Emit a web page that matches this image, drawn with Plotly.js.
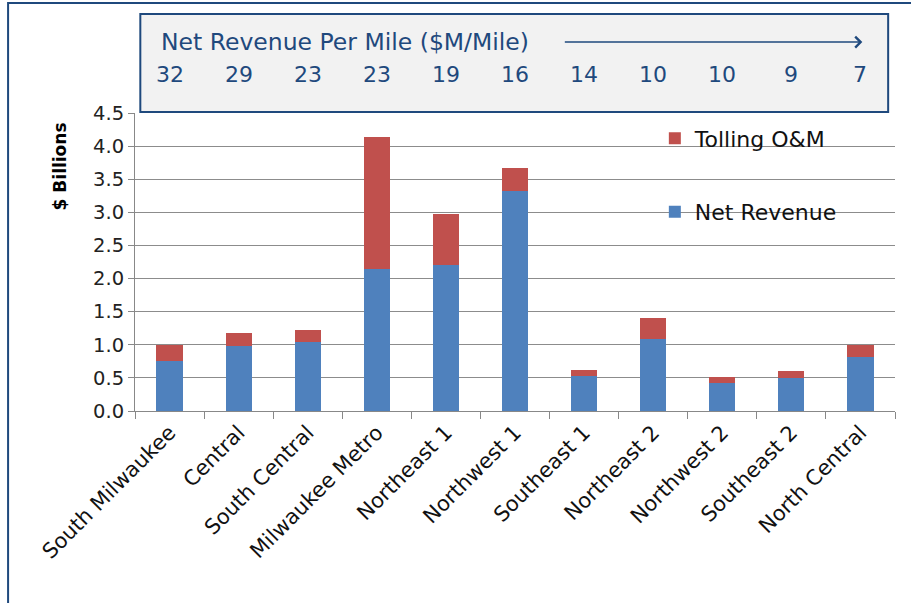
<!DOCTYPE html>
<html><head><meta charset="utf-8">
<script src="https://cdn.plot.ly/plotly-3.0.1.min.js"></script>
<style>html,body{margin:0;padding:0;background:#fff;}#chart{width:911px;height:603px;}</style>
</head><body><div id="chart"></div>
<script>
const categories = ["South Milwaukee","Central","South Central","Milwaukee Metro","Northeast 1","Northwest 1","Southeast 1","Northeast 2","Northwest 2","Southeast 2","North Central"];
const netRevenue = [0.76, 0.98, 1.04, 2.15, 2.20, 3.32, 0.53, 1.09, 0.43, 0.50, 0.81];
const tollingOM  = [0.24, 0.20, 0.18, 1.99, 0.77, 0.35, 0.09, 0.31, 0.08, 0.11, 0.19];
const perMile = [32, 29, 23, 23, 19, 16, 14, 10, 10, 9, 7];
const yTicks = [0, 0.5, 1, 1.5, 2, 2.5, 3, 3.5, 4, 4.5];

const FONT = "'DejaVu Sans', sans-serif";
const BOXBLUE = "#1F497D";

const traces = [
  {type:"bar", name:"Net Revenue", x:categories, y:netRevenue, marker:{color:"#4F81BD"}, width:0.38, legendgroup:"a", legendrank:2},
  {type:"bar", name:"Tolling O&M", x:categories, y:tollingOM, marker:{color:"#C0504D"}, width:0.38, legendgroup:"b", legendrank:1}
];

const annotations = [
  {xref:"paper", yref:"paper", x:0.032, y:1.238, text:"Net Revenue Per Mile ($M/Mile)", showarrow:false, xanchor:"left", yanchor:"middle", font:{family:FONT, size:23.5, color:BOXBLUE}},
  {xref:"paper", yref:"paper", x:0.957, y:1.238, ax:-299, ay:0, text:"", showarrow:true, arrowhead:4, arrowsize:1.4, arrowwidth:1.5, arrowcolor:BOXBLUE},
  {xref:"paper", yref:"paper", x:-0.099, y:0.82, text:"<b>$ Billions</b>", textangle:-90, showarrow:false, xanchor:"center", yanchor:"middle", font:{family:FONT, size:17, color:"#000"}}
];
perMile.forEach((v,i)=>{
  annotations.push({xref:"x", yref:"paper", x:categories[i], y:1.128, text:String(v), showarrow:false, xanchor:"center", yanchor:"middle", font:{family:FONT, size:22, color:BOXBLUE}});
});

const shapes = [
  {type:"rect", xref:"paper", yref:"paper", x0:-0.167, x1:1.03, y0:-0.7, y1:1.369, line:{color:BOXBLUE, width:2}, fillcolor:"rgba(0,0,0,0)", layer:"below"},
  {type:"rect", xref:"paper", yref:"paper", x0:0.007, x1:0.991, y0:1.003, y1:1.332, line:{color:BOXBLUE, width:2}, fillcolor:"#F2F2F2", layer:"above"}
];

const layout = {
  width:911, height:603,
  margin:{l:135, r:16, t:113, b:192},
  paper_bgcolor:"#fff", plot_bgcolor:"#fff",
  barmode:"stack",
  font:{family:FONT, color:"#222"},
  showlegend:true,
  legend:{x:0.684, y:0.985, xanchor:"left", yanchor:"top", traceorder:"grouped", tracegroupgap:42, font:{family:FONT, size:22, color:"#111"}, bgcolor:"rgba(0,0,0,0)"},
  xaxis:{type:"category", tickangle:-45, tickfont:{family:FONT, size:21, color:"#111"}, showline:true, linecolor:"#888", linewidth:1, ticks:"outside", tickson:"boundaries", ticklen:7, tickcolor:"#888", showgrid:false, fixedrange:true},
  yaxis:{range:[0,4.5], tickvals:yTicks, tickformat:".1f", tickfont:{family:FONT, size:19.5, color:"#222"}, showgrid:true, gridcolor:"#8C8C8C", gridwidth:1, showline:true, linecolor:"#888", ticks:"outside", ticklen:6, tickcolor:"#888", zeroline:false},
  annotations:annotations,
  shapes:shapes
};
Plotly.newPlot("chart", traces, layout, {displayModeBar:false, staticPlot:true});
</script></body></html>
